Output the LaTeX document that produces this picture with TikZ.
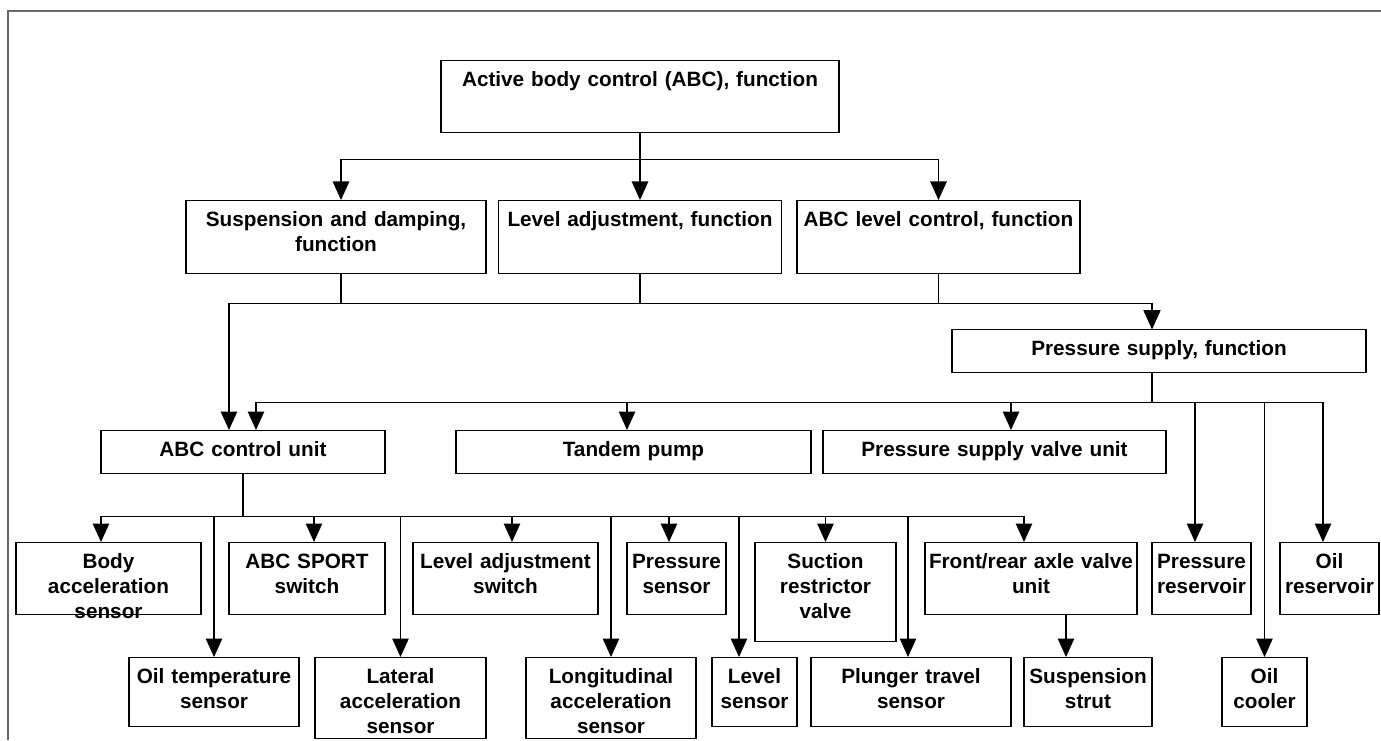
\documentclass[tikz,border=0pt]{standalone}
\usepackage{fontspec}
\setmainfont{Liberation Sans}
\usepackage{tikz}
\usetikzlibrary{arrows.meta}
\definecolor{framegray}{RGB}{105,105,105}

\begin{document}
\begin{tikzpicture}[comp/.style 2 args={draw, line width=0.8pt, anchor=north, align=center, inner xsep=0pt, inner ysep=0pt, text width=#1, text height=0.52cm, text depth=#2, font=\bfseries\fontsize{11.8}{14.2}\selectfont}, arr/.style={line width=0.6pt, -{Triangle[length=0.37cm,width=0.33cm]}}]
\useasboundingbox (0,0) rectangle (27.62,14.8);
\draw[framegray, line width=0.6pt] (0.16,0) -- (0.16,14.58) -- (27.62,14.58);

\node[comp={7.96cm}{0.92cm}] (abc) at (12.8,13.6) {Active body control (ABC), function};
\node[comp={6cm}{0.94cm}] (susp) at (6.72,10.8) {Suspension and damping,\\function};
\node[comp={5.66cm}{0.94cm}] (lvl) at (12.8,10.8) {Level adjustment, function};
\node[comp={5.66cm}{0.94cm}] (abcl) at (18.77,10.8) {ABC level control, function};
\node[comp={8.28cm}{0.34cm}] (press) at (23.18,8.22) {Pressure supply, function};

\node[comp={5.68cm}{0.34cm}] (ecu) at (4.86,6.2) {ABC control unit};
\node[comp={7.1cm}{0.34cm}] (tandem) at (12.67,6.2) {Tandem pump};
\node[comp={6.86cm}{0.34cm}] (psv) at (19.89,6.2) {Pressure supply valve unit};

\node[comp={3.7cm}{0.92cm}] (body) at (2.17,3.96) {Body\\acceleration\\sensor};
\node[comp={3.12cm}{0.92cm}] (sport) at (6.14,3.96) {ABC SPORT\\switch};
\node[comp={3.7cm}{0.92cm}] (lsw) at (10.11,3.96) {Level adjustment\\switch};
\node[comp={1.98cm}{0.92cm}] (psens) at (13.53,3.96) {Pressure\\sensor};
\node[comp={2.82cm}{1.46cm}] (suct) at (16.51,3.96) {Suction\\restrictor\\valve};
\node[comp={4.24cm}{0.92cm}] (axle) at (20.62,3.96) {Front/rear axle valve\\unit};
\node[comp={1.98cm}{0.92cm}] (pres) at (24.03,3.96) {Pressure\\reservoir};
\node[comp={1.98cm}{0.92cm}] (oilres) at (26.59,3.96) {Oil\\reservoir};

\node[comp={3.4cm}{0.86cm}] (oiltemp) at (4.28,1.66) {Oil temperature\\sensor};
\node[comp={3.42cm}{1.1cm}] (lat) at (8.01,1.66) {Lateral\\acceleration\\sensor};
\node[comp={3.4cm}{1.1cm}] (lon) at (12.22,1.66) {Longitudinal\\acceleration\\sensor};
\node[comp={1.7cm}{0.86cm}] (lsens) at (15.09,1.66) {Level\\sensor};
\node[comp={4cm}{0.86cm}] (plunger) at (18.22,1.66) {Plunger travel\\sensor};
\node[comp={2.56cm}{0.86cm}] (strut) at (21.76,1.66) {Suspension\\strut};
\node[comp={1.7cm}{0.86cm}] (cooler) at (25.29,1.66) {Oil\\cooler};

\draw[arr] (abc.south) -- ++(0,-0.52) -| ([xshift=0.1cm]susp.north);
\draw[arr] (abc.south) -- (lvl.north);
\draw[arr] (abc.south) -- ++(0,-0.52) -| (abcl.north);

\draw[arr] ([xshift=0.1cm]susp.south) -- ++(0,-0.58) -| ([xshift=-0.28cm]ecu.north);
\draw[arr] ([xshift=0.1cm]susp.south) -- ++(0,-0.58) -| ([xshift=-0.14cm]press.north);
\draw[arr] (lvl.south) -- ++(0,-0.58) -| ([xshift=-0.14cm]press.north);
\draw[arr] (abcl.south) -- ++(0,-0.58) -| ([xshift=-0.14cm]press.north);

\draw[arr] ([xshift=-0.14cm]press.south) -- ++(0,-0.58) -| ([xshift=0.26cm]ecu.north);
\draw[arr] ([xshift=-0.14cm]press.south) -- ++(0,-0.58) -| ([xshift=-0.13cm]tandem.north);
\draw[arr] ([xshift=-0.14cm]press.south) -- ++(0,-0.58) -| ([xshift=0.33cm]psv.north);
\draw[arr] ([xshift=-0.14cm]press.south) -- ++(0,-0.58) -| ([xshift=-0.13cm]pres.north);
\draw[arr] ([xshift=-0.14cm]press.south) -- ++(0,-0.58) -| (cooler.north);
\draw[arr] ([xshift=-0.14cm]press.south) -- ++(0,-0.58) -| ([xshift=-0.13cm]oilres.north);

\draw[arr] (ecu.south) -- ++(0,-0.84) -| ([xshift=-0.15cm]body.north);
\draw[arr] (ecu.south) -- ++(0,-0.84) -| (oiltemp.north);
\draw[arr] (ecu.south) -- ++(0,-0.84) -| ([xshift=0.14cm]sport.north);
\draw[arr] (ecu.south) -- ++(0,-0.84) -| (lat.north);
\draw[arr] (ecu.south) -- ++(0,-0.84) -| ([xshift=0.13cm]lsw.north);
\draw[arr] (ecu.south) -- ++(0,-0.84) -| (lon.north);
\draw[arr] (ecu.south) -- ++(0,-0.84) -| ([xshift=-0.15cm]psens.north);
\draw[arr] (ecu.south) -- ++(0,-0.84) -| ([xshift=-0.31cm]lsens.north);
\draw[arr] (ecu.south) -- ++(0,-0.84) -| (suct.north);
\draw[arr] (ecu.south) -- ++(0,-0.84) -| ([xshift=-0.06cm]plunger.north);
\draw[arr] (ecu.south) -- ++(0,-0.84) -| ([xshift=-0.14cm]axle.north);
\draw[arr] ([xshift=0.7cm]axle.south) -- ([xshift=-0.44cm]strut.north);
\end{tikzpicture}
\end{document}
